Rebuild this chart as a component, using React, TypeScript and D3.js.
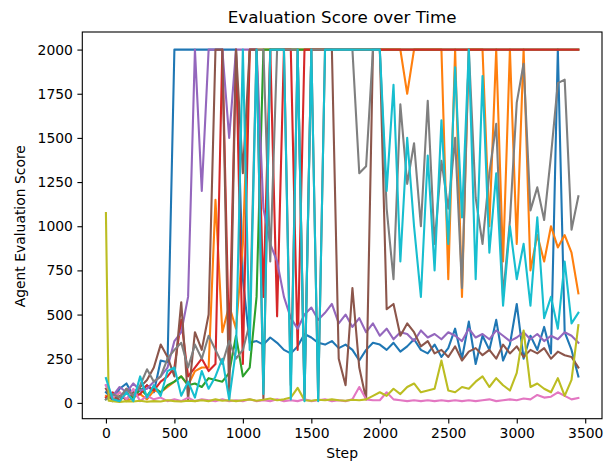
import { useEffect, useRef } from 'react';
import * as d3 from 'd3';

// evaluation steps (every 50 steps up to 3450)
const steps = d3.range(0, 3500, 50);
// the olive run has one extra early evaluation at step 20
const oliveSteps = [0, 20, ...steps.slice(1)];

const agent0 = [
  60, 20, 80, 110, 40, 70, 100, 60, 240, 230,
  2000, 2000, 2000, 2000, 2000, 2000, 2000, 2000, 2000, 2000,
  700, 340, 350, 330, 370, 340, 300, 280, 320, 390,
  370, 340, 330, 350, 310, 330, 300, 240, 300, 340,
  330, 300, 340, 290, 320, 360, 300, 280, 330, 260,
  310, 420, 250, 460, 220, 380, 300, 470, 240, 330,
  560, 250, 380, 300, 430, 280, 2000, 400, 300, 150,
];
const agent1 = [
  40, 20, 60, 10, 30, 50, 20, 70, 60, 90,
  120, 150, 100, 180, 200, 200, 1150, 400, 550, 420,
  900, 2000, 2000, 2000, 2000, 2000, 2000, 2000, 2000, 2000,
  2000, 2000, 2000, 2000, 2000, 2000, 2000, 2000, 2000, 2000,
  2000, 2000, 2000, 2000, 1750, 2000, 2000, 2000, 2000, 2000,
  700, 2000, 600, 2000, 2000, 2000, 1000, 2000, 800, 2000,
  900, 2000, 750, 950, 800, 1000, 880, 950, 850, 620,
];
const agent2 = [
  20, 50, 10, 60, 30, 80, 40, 90, 60, 100,
  120, 150, 100, 110, 90, 140, 130, 120, 170, 380,
  150, 200, 600, 2000, 2000, 2000, 2000, 2000, 2000, 2000,
  2000, 2000, 2000, 2000, 2000, 2000, 2000, 2000, 2000, 2000,
  2000, 2000, 2000, 2000, 2000, 2000, 2000, 2000, 2000, 2000,
  2000, 2000, 2000, 2000, 2000, 2000, 2000, 2000, 2000, 2000,
  2000, 2000, 2000, 2000, 2000, 2000, 2000, 2000, 2000, 2000,
];
const agent3 = [
  30, 60, 10, 80, 40, 50, 100, 70, 120, 150,
  200, 470, 150, 200, 250, 180, 220, 2000, 300, 2000,
  220, 2000, 2000, 600, 2000, 490, 2000, 2000, 300, 2000,
  2000, 2000, 2000, 2000, 2000, 2000, 2000, 2000, 2000, 2000,
  2000, 2000, 2000, 2000, 2000, 2000, 2000, 2000, 2000, 2000,
  2000, 2000, 2000, 2000, 2000, 2000, 2000, 2000, 2000, 2000,
  2000, 2000, 2000, 2000, 2000, 2000, 2000, 2000, 2000, 2000,
];
const agent4 = [
  100, 40, 90, 60, 110, 70, 80, 120, 150, 200,
  350, 400, 600, 2000, 1200, 2000, 2000, 2000, 1500, 2000,
  2000, 2000, 2000, 1100, 900, 800, 600, 480, 420, 500,
  540, 470, 510, 560, 450, 500, 430, 480, 400, 450,
  380, 420, 360, 400, 390, 350, 410, 370, 390, 360,
  400, 380, 350, 420, 370, 390, 360, 410, 380, 350,
  370, 400, 360, 390, 350, 380, 360, 400, 380, 340,
];
const agent5 = [
  80, 10, 40, 20, 60, 90, 130, 200, 330, 260,
  150, 570, 20, 400, 300, 500, 2000, 2000, 20, 2000,
  1300, 2000, 2000, 20, 2000, 2000, 2000, 100, 2000, 20,
  2000, 20, 2000, 2000, 250, 100, 650, 200, 20, 2000,
  2000, 530, 560, 380, 450, 400, 320, 350, 280, 300,
  260, 320, 240, 290, 310, 270, 300, 250, 330, 280,
  320, 260, 300, 280, 310, 250, 290, 270, 260, 200,
];
const agent6 = [
  100, 30, 60, 20, 80, 10, 40, 20, 30, 10,
  20, 10, 30, 10, 20, 15, 10, 20, 10, 15,
  10, 20, 10, 15, 10, 20, 10, 15, 10, 20,
  10, 15, 20, 10, 15, 10, 20, 90, 20, 15,
  15, 60, 20, 15, 10, 15, 10, 15, 10, 15,
  10, 15, 10, 15, 10, 15, 20, 10, 15, 20,
  15, 25, 20, 45, 30, 35, 60, 40, 20, 28,
];
const agent7 = [
  20, 50, 30, 80, 40, 100, 190, 120, 150, 250,
  300, 340, 200, 330, 250, 380, 300, 220, 350, 250,
  300, 450, 2000, 2000, 800, 2000, 2000, 2000, 2000, 50,
  2000, 2000, 2000, 2000, 2000, 2000, 2000, 1300, 1340, 2000,
  2000, 1100, 700, 1690, 1240, 1470, 1000, 1710, 900, 1370,
  1100, 1500, 650, 2000, 1160, 900, 1300, 1580, 600, 1030,
  1700, 1920, 1090, 1220, 1035, 1400, 1810, 1830, 980, 1170,
];
const agent8 = [
  1075, 12, 10, 5, 10, 8, 12, 6, 10, 8, 15,
  10, 8, 12, 10, 15, 10, 20, 12, 15, 10,
  15, 20, 12, 18, 25, 15, 20, 30, 85, 15,
  12, 18, 15, 20, 15, 12, 18, 15, 20, 40,
  60, 40, 80, 50, 90, 110, 60, 70, 80, 240,
  70, 60, 90, 80, 120, 150, 90, 140, 100, 70,
  170, 410, 90, 110, 80, 60, 140, 40, 130, 440,
];
const agent9 = [
  140, 20, 10, 60, 10, 150, 30, 100, 40, 180,
  200, 40, 120, 30, 180, 80, 150, 250, 20, 300,
  2000, 300, 2000, 50, 2000, 2000, 2000, 20, 2000, 10,
  2000, 10, 2000, 2000, 2000, 2000, 2000, 2000, 2000, 2000,
  2000, 1200, 1800, 800, 1500, 1000, 600, 1400, 750, 1600,
  900, 1900, 1050, 2000, 700, 1850, 850, 1300, 550, 1000,
  700, 900, 550, 1050, 480, 600, 420, 800, 450, 510,
];

const agents = [agent0, agent1, agent2, agent3, agent4, agent5, agent6, agent7, agent8, agent9];
const agentSteps = agents.map((_, i) => (i === 8 ? oliveSteps : steps));
const xTicks = [0, 500, 1000, 1500, 2000, 2500, 3000, 3500];
const yTicks = [0, 250, 500, 750, 1000, 1250, 1500, 1750, 2000];

const App = () => {
  const svgRef = useRef<SVGSVGElement>(null);

  useEffect(() => {
    const svg = d3.select(svgRef.current);
    svg.selectAll('*').remove();

    const W = 608, H = 466;
    const margin = { top: 32, right: 6, bottom: 47.3, left: 82.3 };
    const width = W - margin.left - margin.right;
    const height = H - margin.top - margin.bottom;
    const font = 'DejaVu Sans, sans-serif';

    svg.attr('width', W).attr('height', H);

    const g = svg.append('g')
      .attr('transform', `translate(${margin.left},${margin.top})`);

    const x = d3.scaleLinear().domain([-172.5, 3622.5]).range([0, width]);
    const y = d3.scaleLinear().domain([-89.5, 2099.5]).range([height, 0]);

    g.append('defs').append('clipPath').attr('id', 'clip')
      .append('rect').attr('width', width).attr('height', height);

    const lines = g.append('g').attr('clip-path', 'url(#clip)');
    agents.forEach((vals, i) => {
      const xs = agentSteps[i];
      const line = d3.line<number>()
        .x((_, j) => x(xs[j]))
        .y(d => y(d));
      lines.append('path')
        .datum(vals)
        .attr('fill', 'none')
        .attr('stroke', d3.schemeCategory10[i])
        .attr('stroke-width', 2.1)
        .attr('stroke-linejoin', 'round')
        .attr('stroke-linecap', 'square')
        .attr('d', line);
    });

    // axes
    const xAxis = g.append('g')
      .attr('transform', `translate(0,${height})`)
      .call(d3.axisBottom(x).tickValues(xTicks).tickSize(4.9).tickPadding(4.5).tickFormat(d3.format('d')));
    const yAxis = g.append('g')
      .call(d3.axisLeft(y).tickValues(yTicks).tickSize(4.9).tickPadding(4.5).tickFormat(d3.format('d')));

    [xAxis, yAxis].forEach(a => {
      a.select('.domain').remove();
      a.selectAll('line').attr('stroke', '#000').attr('stroke-width', 1.1);
      a.selectAll('text').attr('fill', '#000').style('font-family', font).style('font-size', '13.9px');
    });

    g.append('rect')
      .attr('width', width).attr('height', height)
      .attr('fill', 'none').attr('stroke', '#000').attr('stroke-width', 1.1);

    svg.append('text')
      .attr('x', margin.left + width / 2).attr('y', 23)
      .attr('text-anchor', 'middle')
      .style('font-family', font).style('font-size', '16.7px')
      .text('Evaluation Score over Time');

    svg.append('text')
      .attr('x', margin.left + width / 2).attr('y', 458)
      .attr('text-anchor', 'middle')
      .style('font-family', font).style('font-size', '13.9px')
      .text('Step');

    svg.append('text')
      .attr('transform', `translate(20,${margin.top + y(1000)}) rotate(-90)`)
      .attr('text-anchor', 'middle')
      .attr('dominant-baseline', 'central')
      .style('font-family', font).style('font-size', '13.9px')
      .text('Agent Evaluation Score');
  }, []);

  return (
    <div style={{ position: 'absolute', left: 0, top: 0 }}>
      <svg ref={svgRef}></svg>
    </div>
  );
};

export default App;
